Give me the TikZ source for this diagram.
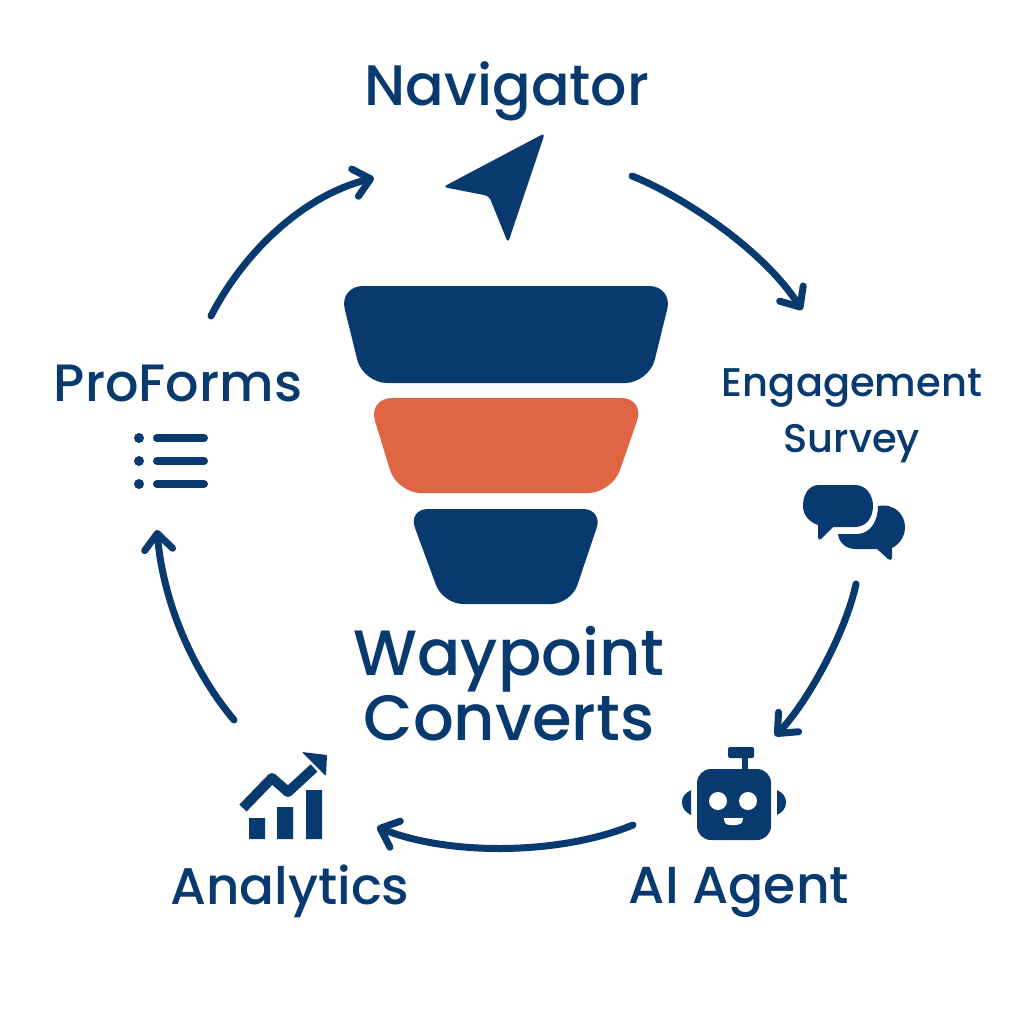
\documentclass[tikz,border=0pt]{standalone}
\usepackage{fontspec}
\setmainfont{Poppins Medium}
\usetikzlibrary{arrows.meta}
\definecolor{navy}{HTML}{083A70}
\definecolor{coral}{HTML}{DF6645}
\tikzset{
  lbl/.style={text=navy,inner sep=0pt,anchor=center,align=center},
  loop/.style={draw=navy,line width=7pt,line cap=round,line join=round,-{Straight Barb[length=16pt,width=28pt,line width=7pt,round]}},
  bar/.style={draw=navy,line width=8pt,line cap=round},
}
\begin{document}
\begin{tikzpicture}[x=1pt,y=-1pt]
\useasboundingbox (0,0) rectangle (1024,1024);
\fill[white] (0,0) rectangle (1024,1024);
% funnel
\fill[navy,rounded corners=24pt] (339,286) -- (673,286) -- (649,383) -- (363,383) -- cycle;
\fill[coral,rounded corners=24pt] (368,398) -- (645,398) -- (612,493) -- (397,493) -- cycle;
\fill[navy,rounded corners=20pt] (408,509) -- (603,509) -- (571,604) -- (443,604) -- cycle;
% labels
\node[lbl,font=\fontsize{57}{57}\selectfont] (nav) at (507,91) {Navigator};
\node[lbl,font=\fontsize{52.5}{52.5}\selectfont] (pro) at (178,383) {ProForms};
\node[lbl,font=\fontsize{40}{56}\selectfont] (eng) at (852,416) {Engagement\\Survey};
\node[lbl,font=\fontsize{64}{65}\selectfont] (way) at (509,684) {Waypoint\\Converts};
\node[lbl,font=\fontsize{51.5}{51.5}\selectfont] (ana) at (290,891) {Analytics};
\node[lbl,font=\fontsize{52}{52}\selectfont] (ai) at (739,892) {AI Agent};
% navigator icon
\fill[navy,rounded corners=4pt] (545,133) -- (443,187) -- (489,196) -- (508,243) -- cycle;
% proforms icon
\foreach \y in {438,461,484}{
  \fill[navy] (139,\y) circle (5pt);
  \draw[bar] (157,\y) -- (204,\y);
}
% chat icon
\fill[navy] (819,485) -- (855,485) .. controls (866,485) and (873,495) .. (873,506) .. controls (873,518) and (866,527) .. (855,527) -- (833,527) -- (821,539) .. controls (819,541) and (818,539) .. (818,537) -- (818,525) .. controls (809,522) and (803,515) .. (803,506) .. controls (803,494) and (809,485) .. (819,485) -- cycle;
\fill[navy] (878,506) .. controls (895,503) and (905,515) .. (905,527) .. controls (905,536) and (900,544) .. (892,548) -- (892,558) .. controls (892,560) and (890,561) .. (888,559) -- (877,549) -- (856,549) .. controls (846,549) and (839,543) .. (838,534) -- (858,534) .. controls (870,533) and (878,522) .. (878,506) -- cycle;
% robot
\fill[navy,rounded corners=14pt] (697,769) rectangle (771,840);
\fill[navy,rounded corners=1.5pt] (728,747) rectangle (754,758);
\fill[navy] (742,757) rectangle (748,770);
\fill[navy] (691,790) .. controls (685,793) and (682,797) .. (682,802) .. controls (682,808) and (685,812) .. (691,815) -- cycle;
\fill[navy] (777,790) .. controls (783,793) and (786,797) .. (786,802) .. controls (786,808) and (783,812) .. (777,815) -- cycle;
\fill[white] (718,801) circle (9pt) (748,801) circle (9pt);
\fill[white] (724,818) -- (743,818) .. controls (743,823) and (740,825) .. (737,825) -- (730,825) .. controls (726,825) and (724,823) .. (724,818) -- cycle;
% chart
\fill[navy] (249,818) rectangle (265,839) (277,807) rectangle (293,839) (306,790) rectangle (322,839);
\draw[navy,line width=10pt,line join=round] (243,808) -- (272,778) -- (288,792) -- (314,768);
\fill[navy,rounded corners=1pt] (302,752) -- (327,755) -- (326,776) -- cycle;
% connectors
\coordinate (a1s) at (632,176); \coordinate (a1e) at (802,310);
\coordinate (a2s) at (856,584); \coordinate (a2e) at (775,736);
\coordinate (a3s) at (633,825); \coordinate (a3e) at (377,827);
\coordinate (a4s) at (234,720); \coordinate (a4e) at (157,530);
\coordinate (a5s) at (211,316); \coordinate (a5e) at (374,178);
\draw[loop] (a1s) .. controls (680,195) and (762,248) .. (a1e);
\draw[loop] (a2s) .. controls (845,635) and (806,704) .. (a2e);
\draw[loop] (a3s) .. controls (560,855) and (450,856) .. (a3e);
\draw[loop] (a4s) .. controls (192,670) and (163,601) .. (a4e);
\draw[loop] (a5s) .. controls (245,250) and (305,195) .. (a5e);
\end{tikzpicture}
\end{document}
